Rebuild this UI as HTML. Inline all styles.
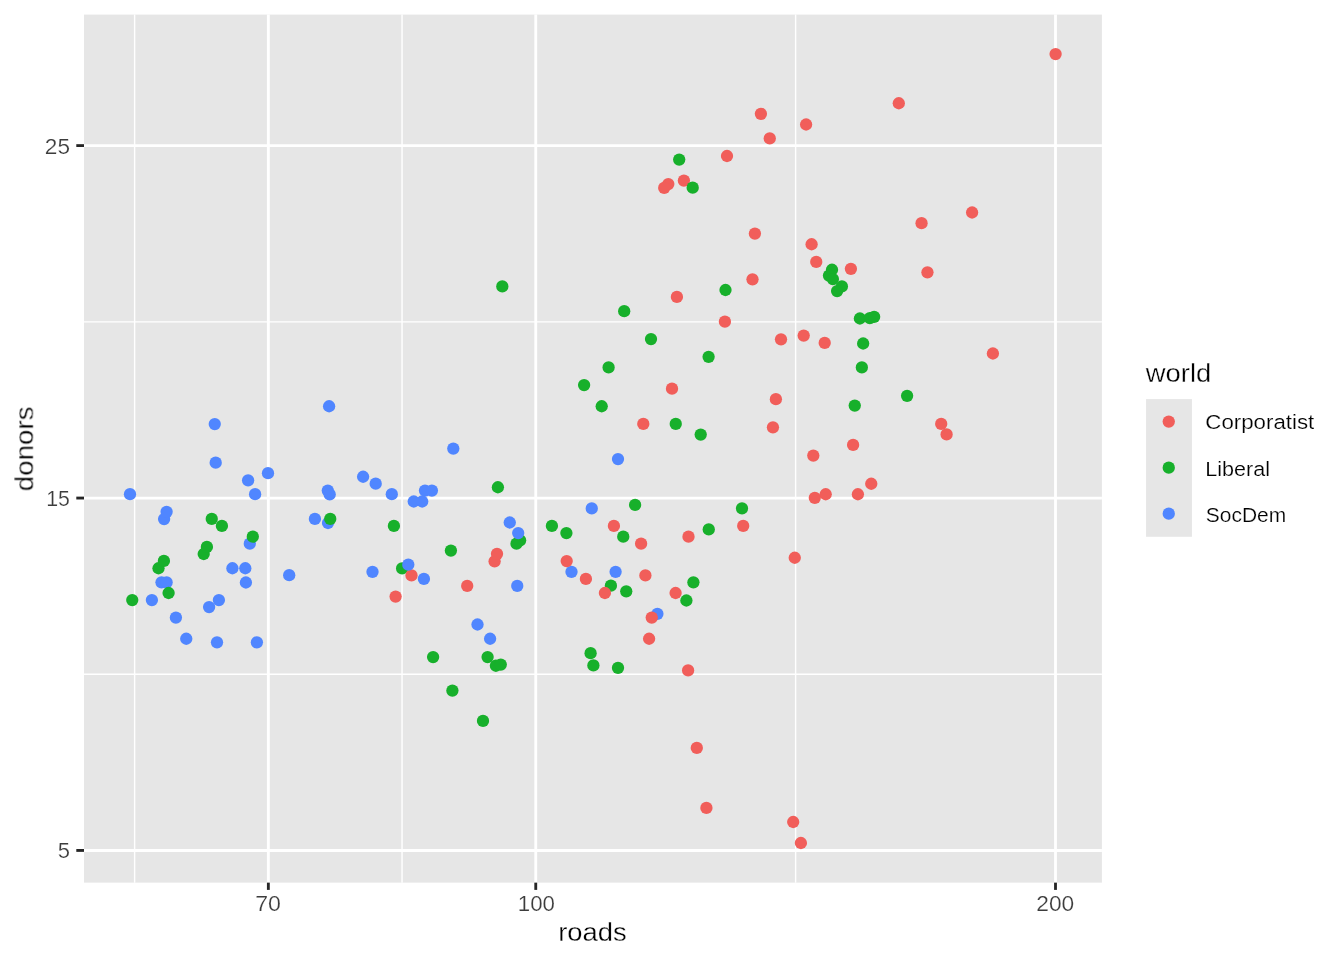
<!DOCTYPE html><html><head><meta charset="utf-8"><title>plot</title>
<style>html,body{margin:0;padding:0;background:#fff}svg{display:block}text{font-family:"Liberation Sans",sans-serif}</style></head><body>
<svg width="1344" height="960" viewBox="0 0 1344 960">
<rect x="0" y="0" width="1344" height="960" fill="#fff"/>
<rect x="84.0" y="14.6" width="1017.90" height="868.05" fill="#E6E6E6"/>
<g stroke="#fff" stroke-width="1.42" fill="none">
<line x1="84.0" x2="1101.9" y1="321.85" y2="321.85"/>
<line x1="84.0" x2="1101.9" y1="674.25" y2="674.25"/>
<line y1="14.6" y2="882.65" x1="134.6" x2="134.6"/>
<line y1="14.6" y2="882.65" x1="402.05" x2="402.05"/>
<line y1="14.6" y2="882.65" x1="795.6" x2="795.6"/>
</g>
<g stroke="#fff" stroke-width="2.85" fill="none">
<line x1="84.0" x2="1101.9" y1="145.6" y2="145.6"/>
<line x1="84.0" x2="1101.9" y1="498.05" y2="498.05"/>
<line x1="84.0" x2="1101.9" y1="850.45" y2="850.45"/>
<line y1="14.6" y2="882.65" x1="268.35" x2="268.35"/>
<line y1="14.6" y2="882.65" x1="535.75" x2="535.75"/>
<line y1="14.6" y2="882.65" x1="1055.5" x2="1055.5"/>
</g>
<g>
<circle cx="329.1" cy="406.25" r="6.15" fill="#5086FF"/>
<circle cx="214.75" cy="424.1" r="6.15" fill="#5086FF"/>
<circle cx="215.7" cy="462.7" r="6.15" fill="#5086FF"/>
<circle cx="268.0" cy="473.2" r="6.15" fill="#5086FF"/>
<circle cx="248.1" cy="480.3" r="6.15" fill="#5086FF"/>
<circle cx="255.1" cy="494.2" r="6.15" fill="#5086FF"/>
<circle cx="130.0" cy="494.2" r="6.15" fill="#5086FF"/>
<circle cx="327.8" cy="490.6" r="6.15" fill="#5086FF"/>
<circle cx="329.7" cy="494.4" r="6.15" fill="#5086FF"/>
<circle cx="164.1" cy="519.1" r="6.15" fill="#5086FF"/>
<circle cx="166.6" cy="511.8" r="6.15" fill="#5086FF"/>
<circle cx="211.75" cy="518.9" r="6.15" fill="#17B02B"/>
<circle cx="221.9" cy="525.9" r="6.15" fill="#17B02B"/>
<circle cx="249.8" cy="543.7" r="6.15" fill="#5086FF"/>
<circle cx="252.8" cy="536.7" r="6.15" fill="#17B02B"/>
<circle cx="314.9" cy="518.9" r="6.15" fill="#5086FF"/>
<circle cx="328.0" cy="523.0" r="6.15" fill="#5086FF"/>
<circle cx="330.25" cy="518.9" r="6.15" fill="#17B02B"/>
<circle cx="203.7" cy="554.0" r="6.15" fill="#17B02B"/>
<circle cx="206.9" cy="546.9" r="6.15" fill="#17B02B"/>
<circle cx="158.5" cy="568.25" r="6.15" fill="#17B02B"/>
<circle cx="163.9" cy="560.9" r="6.15" fill="#17B02B"/>
<circle cx="161.5" cy="582.3" r="6.15" fill="#5086FF"/>
<circle cx="166.6" cy="582.3" r="6.15" fill="#5086FF"/>
<circle cx="168.6" cy="593.0" r="6.15" fill="#17B02B"/>
<circle cx="132.25" cy="600.1" r="6.15" fill="#17B02B"/>
<circle cx="151.9" cy="600.1" r="6.15" fill="#5086FF"/>
<circle cx="232.4" cy="568.25" r="6.15" fill="#5086FF"/>
<circle cx="245.3" cy="568.25" r="6.15" fill="#5086FF"/>
<circle cx="245.9" cy="582.5" r="6.15" fill="#5086FF"/>
<circle cx="289.2" cy="575.2" r="6.15" fill="#5086FF"/>
<circle cx="218.9" cy="600.1" r="6.15" fill="#5086FF"/>
<circle cx="209.1" cy="607.1" r="6.15" fill="#5086FF"/>
<circle cx="175.9" cy="617.6" r="6.15" fill="#5086FF"/>
<circle cx="186.25" cy="638.75" r="6.15" fill="#5086FF"/>
<circle cx="217.0" cy="642.3" r="6.15" fill="#5086FF"/>
<circle cx="256.9" cy="642.3" r="6.15" fill="#5086FF"/>
<circle cx="363.1" cy="476.75" r="6.15" fill="#5086FF"/>
<circle cx="375.7" cy="483.7" r="6.15" fill="#5086FF"/>
<circle cx="391.8" cy="494.2" r="6.15" fill="#5086FF"/>
<circle cx="453.3" cy="448.6" r="6.15" fill="#5086FF"/>
<circle cx="425.0" cy="490.6" r="6.15" fill="#5086FF"/>
<circle cx="431.9" cy="490.6" r="6.15" fill="#5086FF"/>
<circle cx="413.75" cy="501.5" r="6.15" fill="#5086FF"/>
<circle cx="422.2" cy="501.5" r="6.15" fill="#5086FF"/>
<circle cx="497.9" cy="487.25" r="6.15" fill="#17B02B"/>
<circle cx="393.9" cy="525.9" r="6.15" fill="#17B02B"/>
<circle cx="509.75" cy="522.5" r="6.15" fill="#5086FF"/>
<circle cx="520.1" cy="540.3" r="6.15" fill="#17B02B"/>
<circle cx="516.5" cy="543.7" r="6.15" fill="#17B02B"/>
<circle cx="518.2" cy="533.1" r="6.15" fill="#5086FF"/>
<circle cx="551.9" cy="525.9" r="6.15" fill="#17B02B"/>
<circle cx="450.9" cy="550.6" r="6.15" fill="#17B02B"/>
<circle cx="494.6" cy="561.3" r="6.15" fill="#F15E5A"/>
<circle cx="497.0" cy="553.8" r="6.15" fill="#F15E5A"/>
<circle cx="402.1" cy="568.4" r="6.15" fill="#17B02B"/>
<circle cx="411.5" cy="575.4" r="6.15" fill="#F15E5A"/>
<circle cx="408.3" cy="564.7" r="6.15" fill="#5086FF"/>
<circle cx="372.5" cy="571.8" r="6.15" fill="#5086FF"/>
<circle cx="423.9" cy="578.9" r="6.15" fill="#5086FF"/>
<circle cx="395.6" cy="596.6" r="6.15" fill="#F15E5A"/>
<circle cx="467.2" cy="585.9" r="6.15" fill="#F15E5A"/>
<circle cx="517.25" cy="585.9" r="6.15" fill="#5086FF"/>
<circle cx="477.5" cy="624.5" r="6.15" fill="#5086FF"/>
<circle cx="490.1" cy="638.75" r="6.15" fill="#5086FF"/>
<circle cx="433.1" cy="657.1" r="6.15" fill="#17B02B"/>
<circle cx="487.6" cy="657.1" r="6.15" fill="#17B02B"/>
<circle cx="495.9" cy="665.75" r="6.15" fill="#17B02B"/>
<circle cx="500.75" cy="664.6" r="6.15" fill="#17B02B"/>
<circle cx="452.4" cy="690.6" r="6.15" fill="#17B02B"/>
<circle cx="483.0" cy="720.9" r="6.15" fill="#17B02B"/>
<circle cx="584.1" cy="385.1" r="6.15" fill="#17B02B"/>
<circle cx="601.7" cy="406.25" r="6.15" fill="#17B02B"/>
<circle cx="672.0" cy="388.7" r="6.15" fill="#F15E5A"/>
<circle cx="643.3" cy="423.9" r="6.15" fill="#F15E5A"/>
<circle cx="675.75" cy="423.9" r="6.15" fill="#17B02B"/>
<circle cx="700.7" cy="434.6" r="6.15" fill="#17B02B"/>
<circle cx="775.9" cy="399.15" r="6.15" fill="#F15E5A"/>
<circle cx="772.95" cy="427.35" r="6.15" fill="#F15E5A"/>
<circle cx="618.0" cy="459.1" r="6.15" fill="#5086FF"/>
<circle cx="591.75" cy="508.4" r="6.15" fill="#5086FF"/>
<circle cx="635.1" cy="504.9" r="6.15" fill="#17B02B"/>
<circle cx="742.0" cy="508.35" r="6.15" fill="#17B02B"/>
<circle cx="566.4" cy="533.1" r="6.15" fill="#17B02B"/>
<circle cx="613.9" cy="525.9" r="6.15" fill="#F15E5A"/>
<circle cx="623.25" cy="536.7" r="6.15" fill="#17B02B"/>
<circle cx="641.1" cy="543.7" r="6.15" fill="#F15E5A"/>
<circle cx="688.5" cy="536.7" r="6.15" fill="#F15E5A"/>
<circle cx="708.75" cy="529.4" r="6.15" fill="#17B02B"/>
<circle cx="743.2" cy="525.9" r="6.15" fill="#F15E5A"/>
<circle cx="571.5" cy="571.8" r="6.15" fill="#5086FF"/>
<circle cx="566.7" cy="561.05" r="6.15" fill="#F15E5A"/>
<circle cx="585.9" cy="578.9" r="6.15" fill="#F15E5A"/>
<circle cx="615.6" cy="571.8" r="6.15" fill="#5086FF"/>
<circle cx="645.4" cy="575.4" r="6.15" fill="#F15E5A"/>
<circle cx="610.9" cy="585.7" r="6.15" fill="#17B02B"/>
<circle cx="604.9" cy="593.0" r="6.15" fill="#F15E5A"/>
<circle cx="626.25" cy="591.3" r="6.15" fill="#17B02B"/>
<circle cx="693.4" cy="582.3" r="6.15" fill="#17B02B"/>
<circle cx="675.6" cy="593.0" r="6.15" fill="#F15E5A"/>
<circle cx="686.4" cy="600.5" r="6.15" fill="#17B02B"/>
<circle cx="657.4" cy="613.8" r="6.15" fill="#5086FF"/>
<circle cx="651.75" cy="617.6" r="6.15" fill="#F15E5A"/>
<circle cx="649.1" cy="638.75" r="6.15" fill="#F15E5A"/>
<circle cx="590.6" cy="653.2" r="6.15" fill="#17B02B"/>
<circle cx="593.4" cy="665.4" r="6.15" fill="#17B02B"/>
<circle cx="618.0" cy="667.8" r="6.15" fill="#17B02B"/>
<circle cx="688.1" cy="670.4" r="6.15" fill="#F15E5A"/>
<circle cx="696.8" cy="747.9" r="6.15" fill="#F15E5A"/>
<circle cx="706.4" cy="807.9" r="6.15" fill="#F15E5A"/>
<circle cx="793.2" cy="822.0" r="6.15" fill="#F15E5A"/>
<circle cx="800.9" cy="843.0" r="6.15" fill="#F15E5A"/>
<circle cx="502.3" cy="286.4" r="6.15" fill="#17B02B"/>
<circle cx="676.9" cy="296.9" r="6.15" fill="#F15E5A"/>
<circle cx="624.2" cy="311.2" r="6.15" fill="#17B02B"/>
<circle cx="651.0" cy="339.1" r="6.15" fill="#17B02B"/>
<circle cx="708.6" cy="356.8" r="6.15" fill="#17B02B"/>
<circle cx="608.6" cy="367.4" r="6.15" fill="#17B02B"/>
<circle cx="760.9" cy="113.8" r="6.15" fill="#F15E5A"/>
<circle cx="806.1" cy="124.5" r="6.15" fill="#F15E5A"/>
<circle cx="769.75" cy="138.4" r="6.15" fill="#F15E5A"/>
<circle cx="727.0" cy="156.0" r="6.15" fill="#F15E5A"/>
<circle cx="679.2" cy="159.6" r="6.15" fill="#17B02B"/>
<circle cx="683.9" cy="180.6" r="6.15" fill="#F15E5A"/>
<circle cx="692.7" cy="187.7" r="6.15" fill="#17B02B"/>
<circle cx="668.3" cy="184.1" r="6.15" fill="#F15E5A"/>
<circle cx="664.2" cy="187.9" r="6.15" fill="#F15E5A"/>
<circle cx="754.9" cy="233.6" r="6.15" fill="#F15E5A"/>
<circle cx="921.55" cy="223.15" r="6.15" fill="#F15E5A"/>
<circle cx="811.6" cy="244.25" r="6.15" fill="#F15E5A"/>
<circle cx="816.25" cy="261.9" r="6.15" fill="#F15E5A"/>
<circle cx="850.9" cy="268.8" r="6.15" fill="#F15E5A"/>
<circle cx="927.45" cy="272.35" r="6.15" fill="#F15E5A"/>
<circle cx="832.0" cy="269.75" r="6.15" fill="#17B02B"/>
<circle cx="829.0" cy="275.6" r="6.15" fill="#17B02B"/>
<circle cx="832.9" cy="279.1" r="6.15" fill="#17B02B"/>
<circle cx="841.9" cy="286.4" r="6.15" fill="#17B02B"/>
<circle cx="837.1" cy="291.1" r="6.15" fill="#17B02B"/>
<circle cx="752.5" cy="279.3" r="6.15" fill="#F15E5A"/>
<circle cx="725.5" cy="290.0" r="6.15" fill="#17B02B"/>
<circle cx="724.9" cy="321.7" r="6.15" fill="#F15E5A"/>
<circle cx="859.9" cy="318.5" r="6.15" fill="#17B02B"/>
<circle cx="869.85" cy="318.1" r="6.15" fill="#17B02B"/>
<circle cx="874.15" cy="316.8" r="6.15" fill="#17B02B"/>
<circle cx="781.0" cy="339.3" r="6.15" fill="#F15E5A"/>
<circle cx="803.7" cy="335.6" r="6.15" fill="#F15E5A"/>
<circle cx="824.7" cy="342.9" r="6.15" fill="#F15E5A"/>
<circle cx="863.15" cy="343.5" r="6.15" fill="#17B02B"/>
<circle cx="861.85" cy="367.4" r="6.15" fill="#17B02B"/>
<circle cx="907.1" cy="395.8" r="6.15" fill="#17B02B"/>
<circle cx="854.75" cy="405.6" r="6.15" fill="#17B02B"/>
<circle cx="941.2" cy="423.9" r="6.15" fill="#F15E5A"/>
<circle cx="946.6" cy="434.4" r="6.15" fill="#F15E5A"/>
<circle cx="853.1" cy="444.9" r="6.15" fill="#F15E5A"/>
<circle cx="813.3" cy="455.6" r="6.15" fill="#F15E5A"/>
<circle cx="871.25" cy="483.75" r="6.15" fill="#F15E5A"/>
<circle cx="857.9" cy="494.25" r="6.15" fill="#F15E5A"/>
<circle cx="825.7" cy="494.25" r="6.15" fill="#F15E5A"/>
<circle cx="814.8" cy="497.8" r="6.15" fill="#F15E5A"/>
<circle cx="794.75" cy="557.75" r="6.15" fill="#F15E5A"/>
<circle cx="1055.6" cy="54.1" r="6.15" fill="#F15E5A"/>
<circle cx="898.8" cy="103.25" r="6.15" fill="#F15E5A"/>
<circle cx="972.1" cy="212.5" r="6.15" fill="#F15E5A"/>
<circle cx="992.9" cy="353.5" r="6.15" fill="#F15E5A"/>
</g>
<g stroke="#262626" stroke-width="2.85" fill="none">
<line x1="76.3" x2="84.0" y1="145.6" y2="145.6"/>
<line x1="76.3" x2="84.0" y1="498.05" y2="498.05"/>
<line x1="76.3" x2="84.0" y1="850.45" y2="850.45"/>
<line y1="882.65" y2="889.9" x1="268.35" x2="268.35"/>
<line y1="882.65" y2="889.9" x1="535.75" x2="535.75"/>
<line y1="882.65" y2="889.9" x1="1055.5" x2="1055.5"/>
</g>
<g opacity="0.999">
<text transform="translate(44.85,153.65) scale(1.0674,1)" font-size="21.2" fill="#3C3C3C" stroke="#fff" stroke-width="0.2">25</text>
<text transform="translate(46.20,505.85) scale(1.0079,1)" font-size="21.2" fill="#3C3C3C" stroke="#fff" stroke-width="0.2">15</text>
<text transform="translate(57.82,857.9) scale(1.0400,1)" font-size="21.2" fill="#3C3C3C" stroke="#fff" stroke-width="0.2">5</text>
<text transform="translate(255.13,910.95) scale(1.0947,1)" font-size="21.2" fill="#3C3C3C" stroke="#fff" stroke-width="0.2">70</text>
<text transform="translate(517.76,910.95) scale(1.0513,1)" font-size="21.2" fill="#3C3C3C" stroke="#fff" stroke-width="0.2">100</text>
<text transform="translate(1036.29,910.95) scale(1.0737,1)" font-size="21.2" fill="#3C3C3C" stroke="#fff" stroke-width="0.2">200</text>
<text transform="translate(558.24,940.7) scale(1.0697,1)" font-size="25.6" fill="#000" stroke="#fff" stroke-width="0.3">roads</text>
<text transform="translate(1145.77,381.85) scale(1.0700,1)" font-size="25.6" fill="#000" stroke="#fff" stroke-width="0.3">world</text>
<text transform="translate(1205.31,428.9) scale(1.0614,1)" font-size="21.0" fill="#000" stroke="#fff" stroke-width="0.2">Corporatist</text>
<text transform="translate(1205.27,475.7) scale(1.0281,1)" font-size="21.0" fill="#000" stroke="#fff" stroke-width="0.2">Liberal</text>
<text transform="translate(1205.78,521.9) scale(0.9990,1)" font-size="21.0" fill="#000" stroke="#fff" stroke-width="0.2">SocDem</text>
<text transform="translate(33.25,491.25) rotate(-90) scale(1.0820,1)" font-size="25.6" fill="#000" stroke="#fff" stroke-width="0.3">donors</text>
</g>
<rect x="1146.05" y="399.1" width="45.9" height="137.7" fill="#E6E6E6"/>
<circle cx="1168.75" cy="421.6" r="6.15" fill="#F15E5A"/>
<circle cx="1168.75" cy="467.65000000000003" r="6.15" fill="#17B02B"/>
<circle cx="1168.75" cy="513.7" r="6.15" fill="#5086FF"/>
</svg></body></html>
